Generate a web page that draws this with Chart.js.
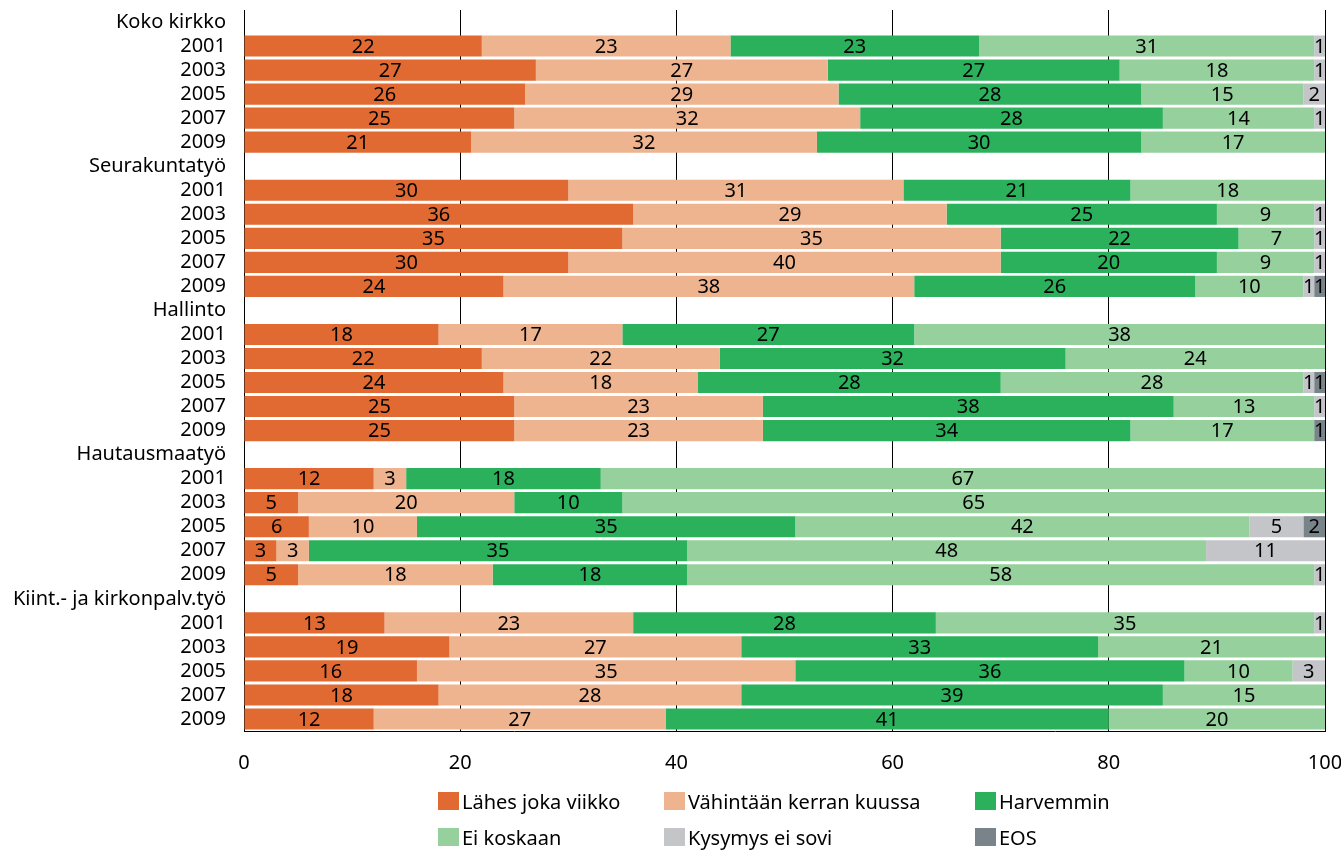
<!DOCTYPE html>
<html>
<head>
<meta charset="utf-8">
<script src="https://cdn.jsdelivr.net/npm/chart.js@4.4.1/dist/chart.umd.min.js"></script>
<style>
  body { margin: 0; background: #fff; font-family: "Noto Sans", sans-serif; }
  #wrap { position: relative; width: 1341px; height: 850px; }
  #legend {
    position: absolute; left: 438px; top: 788px;
    display: grid; grid-template-columns: 226px 311px auto;
    row-gap: 10px; font-size: 20px; color: #000;
  }
  .item { display: flex; align-items: center; height: 26px; white-space: nowrap; }
  .box { width: 21px; height: 18px; margin-right: 3px; }
</style>
</head>
<body>
<div id="wrap">
  <canvas id="chart" width="1341" height="850"></canvas>
  <div id="legend"></div>
</div>
<script>
"use strict";

const groups = ['Koko kirkko', 'Seurakuntatyö', 'Hallinto', 'Hautausmaatyö', 'Kiint.- ja kirkonpalv.työ'];
const years = ['2001', '2003', '2005', '2007', '2009'];
const xTicks = [0, 20, 40, 60, 80, 100];

// values per group, years 2001..2009 in order
const lahes     = [22, 27, 26, 25, 21,  30, 36, 35, 30, 24,  18, 22, 24, 25, 25,  12, 5, 6, 3, 5,     13, 19, 16, 18, 12];
const vahintaan = [23, 27, 29, 32, 32,  31, 29, 35, 40, 38,  17, 22, 18, 23, 23,  3, 20, 10, 3, 18,   23, 27, 35, 28, 27];
const harvemmin = [23, 27, 28, 28, 30,  21, 25, 22, 20, 26,  27, 32, 28, 38, 34,  18, 10, 35, 35, 18, 28, 33, 36, 39, 41];
const eiKoskaan = [31, 18, 15, 14, 17,  18, 9, 7, 9, 10,     38, 24, 28, 13, 17,  67, 65, 42, 48, 58, 35, 21, 10, 15, 20];
const eiSovi    = [1, 1, 2, 1, 0,       0, 1, 1, 1, 1,       0, 0, 1, 1, 0,       0, 0, 5, 11, 1,     1, 0, 3, 0, 0];
const eos       = [0, 0, 0, 0, 0,       0, 0, 0, 0, 1,       0, 0, 1, 0, 1,       0, 0, 2, 0, 0,      0, 0, 0, 0, 0];

const seriesNames = ['Lähes joka viikko', 'Vähintään kerran kuussa', 'Harvemmin', 'Ei koskaan', 'Kysymys ei sovi', 'EOS'];
const seriesColors = ['#E06A32', '#EEB38F', '#2BB05B', '#95D09D', '#C4C5C9', '#79838A'];
const seriesValues = [lahes, vahintaan, harvemmin, eiKoskaan, eiSovi, eos];

// build rows: group header row (empty) followed by the years
const labels = [];
groups.forEach(g => { labels.push(g); years.forEach(y => labels.push(y)); });

function toRows(values) {
    const out = [];
    groups.forEach((g, gi) => {
        out.push(null);
        years.forEach((y, yi) => {
            const v = values[gi * years.length + yi];
            out.push(v > 0 ? v : null);
        });
    });
    return out;
}

Chart.defaults.font.family = '"Noto Sans", sans-serif';
Chart.defaults.font.size = 20;
Chart.defaults.color = '#000';

// numbers centred in each segment
const segmentLabels = {
    id: 'segmentLabels',
    afterDatasetsDraw(chart) {
        const ctx = chart.ctx;
        ctx.save();
        ctx.font = '20px "Noto Sans", sans-serif';
        ctx.fillStyle = '#000';
        ctx.textAlign = 'center';
        ctx.textBaseline = 'middle';
        chart.data.datasets.forEach((ds, i) => {
            const meta = chart.getDatasetMeta(i);
            meta.data.forEach((bar, j) => {
                const v = ds.data[j];
                if (v == null) return;
                const cx = (bar.x + bar.base) / 2;
                ctx.fillText(String(v), cx, bar.y + 1);
            });
        });
        ctx.restore();
    }
};

const ctx = document.getElementById('chart').getContext('2d');
new Chart(ctx, {
    type: 'bar',
    data: {
        labels: labels,
        datasets: seriesNames.map((name, i) => ({
            label: name,
            data: toRows(seriesValues[i]),
            backgroundColor: seriesColors[i],
            borderWidth: 0,
            barPercentage: 1,
            categoryPercentage: 0.88
        }))
    },
    options: {
        indexAxis: 'y',
        responsive: false,
        animation: false,
        layout: { padding: { top: 10, right: 16, left: 0, bottom: 74 } },
        plugins: { legend: { display: false }, tooltip: { enabled: false } },
        scales: {
            x: {
                stacked: true, min: 0, max: 100,
                afterBuildTicks: (scale) => { scale.ticks = xTicks.map(v => ({ value: v })); },
                afterFit: (scale) => { scale.height = 45; scale.paddingLeft = 0; scale.paddingRight = 0; },
                grid: { color: '#000', lineWidth: 1, drawTicks: false },
                border: { display: true, color: '#000', width: 1 },
                ticks: { padding: 20, font: { size: 20 } }
            },
            y: {
                stacked: true,
                afterFit: (scale) => { scale.width = 244; scale.paddingTop = 0; scale.paddingBottom = 0; },
                grid: { display: false, drawTicks: false },
                border: { display: true, color: '#000', width: 1 },
                ticks: { padding: 18, font: { size: 20 }, autoSkip: false }
            }
        }
    },
    plugins: [segmentLabels]
});

// legend: 3 columns, 2 rows like the original
const legendEl = document.getElementById('legend');
seriesNames.forEach((name, i) => {
    const item = document.createElement('div');
    item.className = 'item';
    item.innerHTML = `<span class="box" style="background:${seriesColors[i]}"></span><span>${name}</span>`;
    legendEl.appendChild(item);
});
</script>
</body>
</html>
